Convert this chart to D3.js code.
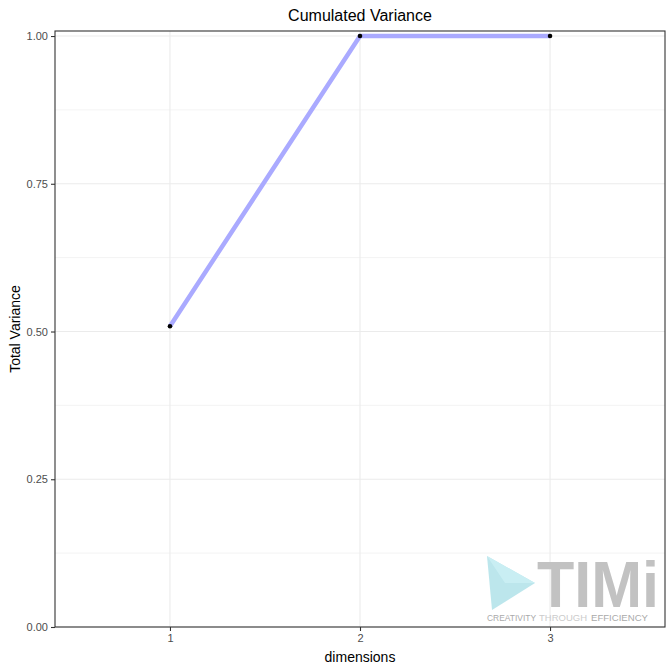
<!DOCTYPE html>
<html><head><meta charset="utf-8">
<script src="https://cdn.jsdelivr.net/npm/d3@7"></script>
<style>body{margin:0;background:#fff}</style>
</head><body>
<svg id="c" width="672" height="672"></svg>
<script>
const dims = [1, 2, 3];
const cumVariance = [0.509, 1.0, 1.0];
const yTicks = [0, 0.25, 0.5, 0.75, 1.0];
const yMinor = [0.125, 0.375, 0.625, 0.875];
const title = "Cumulated Variance";
const xLabel = "dimensions";
const yLabel = "Total Variance";

const svg = d3.select("#c");
const L = 55, R = 665, T = 31, B = 627;
const x = d3.scaleLinear().domain([0.395, 3.605]).range([L, R]);
const y = d3.scaleLinear().domain([0, 1.0085]).range([B, T]);
const font = "Liberation Sans, Arial, sans-serif";

// grid
const g = svg.append("g");
g.selectAll(".ym").data(yMinor).join("line")
  .attr("x1", L).attr("x2", R).attr("y1", d => y(d)).attr("y2", d => y(d))
  .attr("stroke", "#ebebeb").attr("stroke-width", 0.6);
g.selectAll(".yM").data(yTicks).join("line")
  .attr("x1", L).attr("x2", R).attr("y1", d => y(d)).attr("y2", d => y(d))
  .attr("stroke", "#ebebeb").attr("stroke-width", 1.1);
g.selectAll(".xM").data(dims).join("line")
  .attr("y1", T).attr("y2", B).attr("x1", d => x(d)).attr("x2", d => x(d))
  .attr("stroke", "#ebebeb").attr("stroke-width", 1.1);

// watermark
const wm = svg.append("g");
wm.append("path").attr("d", "M487,556 L535,583 L492,610 Z").attr("fill", "#b5e3ea").attr("opacity", 0.9);
wm.append("path").attr("d", "M487,556 L535,583 L505,583 Z").attr("fill", "#c9eef3");
wm.append("text").attr("x", 537).attr("y", 607).attr("font-family", font).attr("font-size", 64)
  .attr("font-weight", "bold").attr("fill", "#c2c2c2")
  .attr("textLength", 122).attr("lengthAdjust", "spacingAndGlyphs").text("TIMi");
const tag = [["CREATIVITY", 487, 49, "#aaaaaa"], ["THROUGH", 539, 48, "#cccccc"], ["EFFICIENCY", 591, 57, "#aaaaaa"]];
wm.selectAll(".tag").data(tag).join("text")
  .attr("x", d => d[1]).attr("y", 621).attr("font-family", font).attr("font-size", 9)
  .attr("fill", d => d[3]).attr("textLength", d => d[2]).attr("lengthAdjust", "spacingAndGlyphs")
  .text(d => d[0]);

// line and points
const line = d3.line().x((d, i) => x(dims[i])).y(d => y(d));
svg.append("path").datum(cumVariance).attr("d", line)
  .attr("fill", "none").attr("stroke", "#aaaaff").attr("stroke-width", 4.5);
svg.selectAll(".pt").data(cumVariance).join("circle")
  .attr("cx", (d, i) => x(dims[i])).attr("cy", d => y(d)).attr("r", 2.3).attr("fill", "#000");

// panel border
svg.append("rect").attr("x", L).attr("y", T).attr("width", R - L).attr("height", B - T)
  .attr("fill", "none").attr("stroke", "#333333").attr("stroke-width", 1.1);

// axes
const xa = svg.append("g").attr("transform", `translate(0,${B})`)
  .call(d3.axisBottom(x).tickValues(dims).tickFormat(d3.format("d")).tickSizeOuter(0).tickSize(4).tickPadding(3));
const ya = svg.append("g").attr("transform", `translate(${L},0)`)
  .call(d3.axisLeft(y).tickValues(yTicks).tickFormat(d3.format(".2f")).tickSizeOuter(0).tickSize(4).tickPadding(3));
[xa, ya].forEach(a => {
  a.select(".domain").remove();
  a.selectAll("line").attr("stroke", "#333333").attr("stroke-width", 1.1);
  a.selectAll("text").attr("fill", "#4d4d4d").attr("font-size", 11).attr("font-family", font);
});

svg.append("text").attr("x", (L + R) / 2).attr("y", 21).attr("text-anchor", "middle")
  .attr("font-family", font).attr("font-size", 16).attr("fill", "#000").text(title);
svg.append("text").attr("x", (L + R) / 2).attr("y", 662).attr("text-anchor", "middle")
  .attr("font-family", font).attr("font-size", 14).attr("fill", "#000").text(xLabel);
svg.append("text").attr("transform", `translate(20,${(T + B) / 2}) rotate(-90)`).attr("text-anchor", "middle")
  .attr("font-family", font).attr("font-size", 14).attr("fill", "#000").text(yLabel);
</script>
</body></html>
